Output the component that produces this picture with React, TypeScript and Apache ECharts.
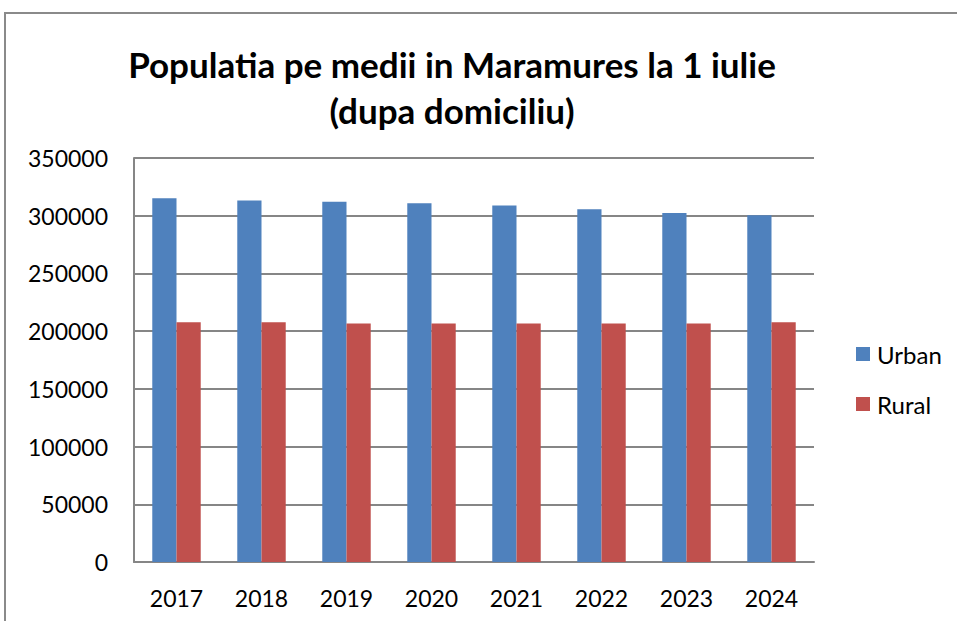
import React, { useEffect, useRef } from "react";
import * as echarts from "echarts";

const titleLines = ["Populatia pe medii in Maramures la 1 iulie", "(dupa domiciliu)"];
const years = ["2017", "2018", "2019", "2020", "2021", "2022", "2023", "2024"];
const urban = [315200, 313200, 312000, 310900, 308800, 305500, 302300, 300300];
const rural = [207800, 207800, 206700, 206700, 206700, 206700, 206700, 207800];
const seriesNames = ["Urban", "Rural"];

const FONT = "Lato, 'Liberation Sans', sans-serif";

export default function App() {
  const ref = useRef<HTMLDivElement>(null);
  useEffect(() => {
    document.body.style.margin = "0";
    const chart = echarts.init(ref.current!, null, { renderer: "svg" });
    chart.setOption({
      animation: false,
      backgroundColor: "#ffffff",
      title: {
        text: titleLines.join("\n"),
        left: 447,
        top: 36,
        textAlign: "center",
        textStyle: {
          fontFamily: FONT,
          fontWeight: "bold",
          fontSize: 35,
          lineHeight: 46,
          color: "#000000",
        },
      },
      graphic: [
        {
          type: "rect",
          shape: { x: 5, y: 13, width: 970, height: 640 },
          style: { fill: "none", stroke: "#8a8a8a", lineWidth: 2 },
          silent: true,
          z: -1,
        },
      ],
      legend: {
        orient: "vertical",
        left: 851,
        top: 337,
        itemWidth: 14,
        itemHeight: 14,
        itemGap: 26,
        icon: "rect",
        data: seriesNames,
        textStyle: { fontFamily: FONT, fontSize: 24, color: "#000000", padding: [0, 0, 0, 2] },
      },
      grid: { left: 134, right: 143, top: 158, bottom: 59, containLabel: false },
      xAxis: {
        type: "category",
        data: years,
        axisLine: { lineStyle: { color: "#868686", width: 2 } },
        axisTick: { show: false },
        axisLabel: { fontFamily: FONT, fontSize: 23, color: "#000000", margin: 24 },
      },
      yAxis: {
        type: "value",
        min: 0,
        max: 350000,
        interval: 50000,
        axisLine: { show: true, lineStyle: { color: "#868686", width: 2 } },
        axisTick: { show: false },
        splitLine: { lineStyle: { color: "#868686", width: 2 } },
        axisLabel: {
          fontFamily: FONT,
          fontSize: 23,
          color: "#000000",
          margin: 26,
          formatter: (v: number) => String(v),
        },
      },
      series: [
        {
          name: seriesNames[0],
          type: "bar",
          data: urban,
          barGap: "0%",
          barCategoryGap: "43%",
          itemStyle: { color: "#4F81BD" },
        },
        {
          name: seriesNames[1],
          type: "bar",
          data: rural,
          barGap: "0%",
          barCategoryGap: "43%",
          itemStyle: { color: "#C0504D" },
        },
      ],
    });
    return () => chart.dispose();
  }, []);
  return (
    <div
      ref={ref}
      style={{ position: "absolute", left: 0, top: 0, width: 957, height: 621 }}
    />
  );
}
